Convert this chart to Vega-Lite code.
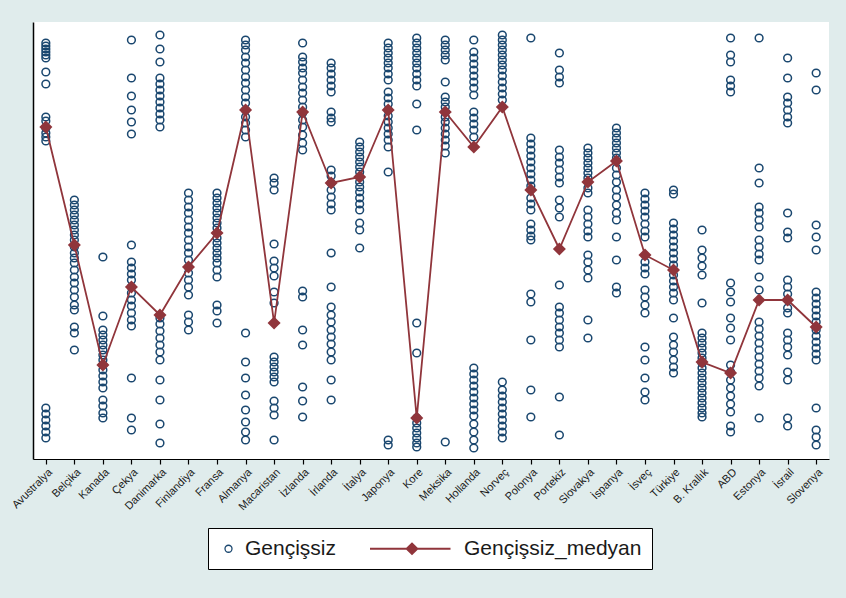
{
  "$schema": "https://vega.github.io/schema/vega-lite/v6.json",
  "autosize": {"type": "none"},
  "width": 796,
  "height": 437,
  "padding": {"left": 33, "top": 22, "right": 17, "bottom": 139},
  "background": "#e0ecec",
  "config": {
    "view": {"stroke": null, "fill": "white"},
    "font": "Liberation Sans"
  },
  "datasets": {
    "noktalar": [
      {"ulke":"Avustralya","deger":41.6},{"ulke":"Avustralya","deger":41.3},{"ulke":"Avustralya","deger":41.0},{"ulke":"Avustralya","deger":40.7},{"ulke":"Avustralya","deger":40.4},{"ulke":"Avustralya","deger":40.1},{"ulke":"Avustralya","deger":38.7},{"ulke":"Avustralya","deger":37.5},{"ulke":"Avustralya","deger":34.2},{"ulke":"Avustralya","deger":33.8},{"ulke":"Avustralya","deger":33.1},{"ulke":"Avustralya","deger":32.6},{"ulke":"Avustralya","deger":32.2},{"ulke":"Avustralya","deger":31.8},{"ulke":"Avustralya","deger":5.1},{"ulke":"Avustralya","deger":4.5},{"ulke":"Avustralya","deger":3.9},{"ulke":"Avustralya","deger":3.3},{"ulke":"Avustralya","deger":2.7},{"ulke":"Avustralya","deger":2.1},
      {"ulke":"Belçika","deger":25.9},{"ulke":"Belçika","deger":25.4},{"ulke":"Belçika","deger":24.9},{"ulke":"Belçika","deger":24.4},{"ulke":"Belçika","deger":23.9},{"ulke":"Belçika","deger":23.4},{"ulke":"Belçika","deger":22.9},{"ulke":"Belçika","deger":22.4},{"ulke":"Belçika","deger":21.9},{"ulke":"Belçika","deger":21.2},{"ulke":"Belçika","deger":20.6},{"ulke":"Belçika","deger":20.1},{"ulke":"Belçika","deger":19.6},{"ulke":"Belçika","deger":18.9},{"ulke":"Belçika","deger":18.2},{"ulke":"Belçika","deger":17.6},{"ulke":"Belçika","deger":16.9},{"ulke":"Belçika","deger":16.2},{"ulke":"Belçika","deger":15.4},{"ulke":"Belçika","deger":14.9},{"ulke":"Belçika","deger":13.2},{"ulke":"Belçika","deger":12.6},{"ulke":"Belçika","deger":10.9},
      {"ulke":"Kanada","deger":20.2},{"ulke":"Kanada","deger":14.3},{"ulke":"Kanada","deger":12.9},{"ulke":"Kanada","deger":12.4},{"ulke":"Kanada","deger":11.9},{"ulke":"Kanada","deger":11.4},{"ulke":"Kanada","deger":10.9},{"ulke":"Kanada","deger":10.4},{"ulke":"Kanada","deger":9.9},{"ulke":"Kanada","deger":9.4},{"ulke":"Kanada","deger":8.9},{"ulke":"Kanada","deger":8.3},{"ulke":"Kanada","deger":7.7},{"ulke":"Kanada","deger":7.1},{"ulke":"Kanada","deger":5.9},{"ulke":"Kanada","deger":5.3},{"ulke":"Kanada","deger":4.6},{"ulke":"Kanada","deger":4.1},
      {"ulke":"Çekya","deger":41.9},{"ulke":"Çekya","deger":38.1},{"ulke":"Çekya","deger":36.3},{"ulke":"Çekya","deger":34.9},{"ulke":"Çekya","deger":33.7},{"ulke":"Çekya","deger":32.5},{"ulke":"Çekya","deger":21.4},{"ulke":"Çekya","deger":19.7},{"ulke":"Çekya","deger":19.1},{"ulke":"Çekya","deger":18.5},{"ulke":"Çekya","deger":17.9},{"ulke":"Çekya","deger":17.2},{"ulke":"Çekya","deger":16.6},{"ulke":"Çekya","deger":15.9},{"ulke":"Çekya","deger":15.3},{"ulke":"Çekya","deger":14.6},{"ulke":"Çekya","deger":13.9},{"ulke":"Çekya","deger":13.3},{"ulke":"Çekya","deger":8.1},{"ulke":"Çekya","deger":4.1},{"ulke":"Çekya","deger":2.9},
      {"ulke":"Danimarka","deger":42.4},{"ulke":"Danimarka","deger":41.0},{"ulke":"Danimarka","deger":39.7},{"ulke":"Danimarka","deger":38.1},{"ulke":"Danimarka","deger":37.5},{"ulke":"Danimarka","deger":36.9},{"ulke":"Danimarka","deger":36.3},{"ulke":"Danimarka","deger":35.7},{"ulke":"Danimarka","deger":35.1},{"ulke":"Danimarka","deger":34.5},{"ulke":"Danimarka","deger":33.9},{"ulke":"Danimarka","deger":33.2},{"ulke":"Danimarka","deger":14.1},{"ulke":"Danimarka","deger":13.5},{"ulke":"Danimarka","deger":12.8},{"ulke":"Danimarka","deger":12.1},{"ulke":"Danimarka","deger":11.4},{"ulke":"Danimarka","deger":10.7},{"ulke":"Danimarka","deger":9.9},{"ulke":"Danimarka","deger":7.9},{"ulke":"Danimarka","deger":5.9},{"ulke":"Danimarka","deger":3.5},{"ulke":"Danimarka","deger":1.6},
      {"ulke":"Finlandiya","deger":26.6},{"ulke":"Finlandiya","deger":25.9},{"ulke":"Finlandiya","deger":25.2},{"ulke":"Finlandiya","deger":24.6},{"ulke":"Finlandiya","deger":23.9},{"ulke":"Finlandiya","deger":23.2},{"ulke":"Finlandiya","deger":22.6},{"ulke":"Finlandiya","deger":21.9},{"ulke":"Finlandiya","deger":21.2},{"ulke":"Finlandiya","deger":20.6},{"ulke":"Finlandiya","deger":19.9},{"ulke":"Finlandiya","deger":19.2},{"ulke":"Finlandiya","deger":18.6},{"ulke":"Finlandiya","deger":17.9},{"ulke":"Finlandiya","deger":17.2},{"ulke":"Finlandiya","deger":16.4},{"ulke":"Finlandiya","deger":14.4},{"ulke":"Finlandiya","deger":13.7},{"ulke":"Finlandiya","deger":12.9},
      {"ulke":"Fransa","deger":26.6},{"ulke":"Fransa","deger":26.1},{"ulke":"Fransa","deger":25.6},{"ulke":"Fransa","deger":25.1},{"ulke":"Fransa","deger":24.6},{"ulke":"Fransa","deger":24.1},{"ulke":"Fransa","deger":23.6},{"ulke":"Fransa","deger":23.1},{"ulke":"Fransa","deger":22.1},{"ulke":"Fransa","deger":21.6},{"ulke":"Fransa","deger":21.1},{"ulke":"Fransa","deger":20.6},{"ulke":"Fransa","deger":20.1},{"ulke":"Fransa","deger":19.6},{"ulke":"Fransa","deger":18.9},{"ulke":"Fransa","deger":18.2},{"ulke":"Fransa","deger":15.4},{"ulke":"Fransa","deger":14.8},{"ulke":"Fransa","deger":13.6},
      {"ulke":"Almanya","deger":41.9},{"ulke":"Almanya","deger":41.4},{"ulke":"Almanya","deger":40.9},{"ulke":"Almanya","deger":40.2},{"ulke":"Almanya","deger":39.6},{"ulke":"Almanya","deger":38.9},{"ulke":"Almanya","deger":38.2},{"ulke":"Almanya","deger":37.6},{"ulke":"Almanya","deger":36.9},{"ulke":"Almanya","deger":36.2},{"ulke":"Almanya","deger":35.6},{"ulke":"Almanya","deger":34.9},{"ulke":"Almanya","deger":34.2},{"ulke":"Almanya","deger":33.6},{"ulke":"Almanya","deger":32.9},{"ulke":"Almanya","deger":32.2},{"ulke":"Almanya","deger":12.6},{"ulke":"Almanya","deger":9.7},{"ulke":"Almanya","deger":8.1},{"ulke":"Almanya","deger":6.4},{"ulke":"Almanya","deger":4.9},{"ulke":"Almanya","deger":3.7},{"ulke":"Almanya","deger":2.7},{"ulke":"Almanya","deger":1.9},
      {"ulke":"Macaristan","deger":28.1},{"ulke":"Macaristan","deger":27.6},{"ulke":"Macaristan","deger":26.9},{"ulke":"Macaristan","deger":21.5},{"ulke":"Macaristan","deger":19.8},{"ulke":"Macaristan","deger":19.1},{"ulke":"Macaristan","deger":18.3},{"ulke":"Macaristan","deger":16.7},{"ulke":"Macaristan","deger":15.6},{"ulke":"Macaristan","deger":10.2},{"ulke":"Macaristan","deger":9.7},{"ulke":"Macaristan","deger":9.2},{"ulke":"Macaristan","deger":8.7},{"ulke":"Macaristan","deger":8.2},{"ulke":"Macaristan","deger":7.7},{"ulke":"Macaristan","deger":5.8},{"ulke":"Macaristan","deger":5.1},{"ulke":"Macaristan","deger":4.4},{"ulke":"Macaristan","deger":1.9},
      {"ulke":"İzlanda","deger":41.6},{"ulke":"İzlanda","deger":40.2},{"ulke":"İzlanda","deger":39.7},{"ulke":"İzlanda","deger":39.1},{"ulke":"İzlanda","deger":38.6},{"ulke":"İzlanda","deger":37.9},{"ulke":"İzlanda","deger":37.2},{"ulke":"İzlanda","deger":36.6},{"ulke":"İzlanda","deger":35.9},{"ulke":"İzlanda","deger":35.2},{"ulke":"İzlanda","deger":34.6},{"ulke":"İzlanda","deger":33.9},{"ulke":"İzlanda","deger":33.2},{"ulke":"İzlanda","deger":32.4},{"ulke":"İzlanda","deger":31.6},{"ulke":"İzlanda","deger":30.9},{"ulke":"İzlanda","deger":16.8},{"ulke":"İzlanda","deger":16.2},{"ulke":"İzlanda","deger":12.9},{"ulke":"İzlanda","deger":11.4},{"ulke":"İzlanda","deger":7.2},{"ulke":"İzlanda","deger":5.8},{"ulke":"İzlanda","deger":4.2},
      {"ulke":"İrlanda","deger":39.6},{"ulke":"İrlanda","deger":39.1},{"ulke":"İrlanda","deger":38.5},{"ulke":"İrlanda","deger":37.9},{"ulke":"İrlanda","deger":37.3},{"ulke":"İrlanda","deger":36.7},{"ulke":"İrlanda","deger":34.7},{"ulke":"İrlanda","deger":34.1},{"ulke":"İrlanda","deger":33.7},{"ulke":"İrlanda","deger":28.9},{"ulke":"İrlanda","deger":28.3},{"ulke":"İrlanda","deger":27.6},{"ulke":"İrlanda","deger":26.9},{"ulke":"İrlanda","deger":26.2},{"ulke":"İrlanda","deger":25.5},{"ulke":"İrlanda","deger":24.9},{"ulke":"İrlanda","deger":20.6},{"ulke":"İrlanda","deger":17.2},{"ulke":"İrlanda","deger":15.2},{"ulke":"İrlanda","deger":14.4},{"ulke":"İrlanda","deger":13.7},{"ulke":"İrlanda","deger":12.9},{"ulke":"İrlanda","deger":12.2},{"ulke":"İrlanda","deger":11.5},{"ulke":"İrlanda","deger":10.7},{"ulke":"İrlanda","deger":9.9},{"ulke":"İrlanda","deger":7.9},{"ulke":"İrlanda","deger":5.9},
      {"ulke":"İtalya","deger":31.7},{"ulke":"İtalya","deger":31.2},{"ulke":"İtalya","deger":30.7},{"ulke":"İtalya","deger":30.2},{"ulke":"İtalya","deger":29.7},{"ulke":"İtalya","deger":29.2},{"ulke":"İtalya","deger":28.7},{"ulke":"İtalya","deger":28.2},{"ulke":"İtalya","deger":27.7},{"ulke":"İtalya","deger":27.2},{"ulke":"İtalya","deger":26.7},{"ulke":"İtalya","deger":26.1},{"ulke":"İtalya","deger":25.5},{"ulke":"İtalya","deger":24.9},{"ulke":"İtalya","deger":23.6},{"ulke":"İtalya","deger":22.9},{"ulke":"İtalya","deger":21.1},
      {"ulke":"Japonya","deger":41.6},{"ulke":"Japonya","deger":41.1},{"ulke":"Japonya","deger":40.6},{"ulke":"Japonya","deger":40.1},{"ulke":"Japonya","deger":39.6},{"ulke":"Japonya","deger":39.1},{"ulke":"Japonya","deger":38.5},{"ulke":"Japonya","deger":37.9},{"ulke":"Japonya","deger":36.7},{"ulke":"Japonya","deger":36.1},{"ulke":"Japonya","deger":35.5},{"ulke":"Japonya","deger":34.9},{"ulke":"Japonya","deger":34.3},{"ulke":"Japonya","deger":33.7},{"ulke":"Japonya","deger":33.1},{"ulke":"Japonya","deger":32.5},{"ulke":"Japonya","deger":31.9},{"ulke":"Japonya","deger":31.2},{"ulke":"Japonya","deger":28.7},{"ulke":"Japonya","deger":1.9},{"ulke":"Japonya","deger":1.4},
      {"ulke":"Kore","deger":42.1},{"ulke":"Kore","deger":41.6},{"ulke":"Kore","deger":41.1},{"ulke":"Kore","deger":40.6},{"ulke":"Kore","deger":40.1},{"ulke":"Kore","deger":39.6},{"ulke":"Kore","deger":39.1},{"ulke":"Kore","deger":38.5},{"ulke":"Kore","deger":37.9},{"ulke":"Kore","deger":37.3},{"ulke":"Kore","deger":35.5},{"ulke":"Kore","deger":32.9},{"ulke":"Kore","deger":13.6},{"ulke":"Kore","deger":10.6},{"ulke":"Kore","deger":4.1},{"ulke":"Kore","deger":3.6},{"ulke":"Kore","deger":3.1},{"ulke":"Kore","deger":2.6},{"ulke":"Kore","deger":2.1},{"ulke":"Kore","deger":1.6},{"ulke":"Kore","deger":1.2},
      {"ulke":"Meksika","deger":41.9},{"ulke":"Meksika","deger":41.4},{"ulke":"Meksika","deger":40.9},{"ulke":"Meksika","deger":40.4},{"ulke":"Meksika","deger":39.9},{"ulke":"Meksika","deger":37.7},{"ulke":"Meksika","deger":36.2},{"ulke":"Meksika","deger":35.7},{"ulke":"Meksika","deger":35.2},{"ulke":"Meksika","deger":34.7},{"ulke":"Meksika","deger":34.2},{"ulke":"Meksika","deger":33.7},{"ulke":"Meksika","deger":33.1},{"ulke":"Meksika","deger":32.5},{"ulke":"Meksika","deger":31.9},{"ulke":"Meksika","deger":31.3},{"ulke":"Meksika","deger":30.6},{"ulke":"Meksika","deger":1.7},
      {"ulke":"Hollanda","deger":41.9},{"ulke":"Hollanda","deger":40.7},{"ulke":"Hollanda","deger":40.1},{"ulke":"Hollanda","deger":39.5},{"ulke":"Hollanda","deger":38.9},{"ulke":"Hollanda","deger":38.3},{"ulke":"Hollanda","deger":37.7},{"ulke":"Hollanda","deger":37.1},{"ulke":"Hollanda","deger":36.4},{"ulke":"Hollanda","deger":34.7},{"ulke":"Hollanda","deger":34.1},{"ulke":"Hollanda","deger":33.5},{"ulke":"Hollanda","deger":32.9},{"ulke":"Hollanda","deger":32.2},{"ulke":"Hollanda","deger":9.1},{"ulke":"Hollanda","deger":8.5},{"ulke":"Hollanda","deger":7.9},{"ulke":"Hollanda","deger":7.3},{"ulke":"Hollanda","deger":6.7},{"ulke":"Hollanda","deger":6.1},{"ulke":"Hollanda","deger":5.5},{"ulke":"Hollanda","deger":4.9},{"ulke":"Hollanda","deger":4.3},{"ulke":"Hollanda","deger":3.5},{"ulke":"Hollanda","deger":2.7},{"ulke":"Hollanda","deger":1.9},{"ulke":"Hollanda","deger":1.1},
      {"ulke":"Norveç","deger":42.4},{"ulke":"Norveç","deger":41.9},{"ulke":"Norveç","deger":41.4},{"ulke":"Norveç","deger":40.9},{"ulke":"Norveç","deger":40.4},{"ulke":"Norveç","deger":39.9},{"ulke":"Norveç","deger":39.4},{"ulke":"Norveç","deger":38.9},{"ulke":"Norveç","deger":38.3},{"ulke":"Norveç","deger":37.7},{"ulke":"Norveç","deger":37.1},{"ulke":"Norveç","deger":36.5},{"ulke":"Norveç","deger":35.9},{"ulke":"Norveç","deger":7.7},{"ulke":"Norveç","deger":6.9},{"ulke":"Norveç","deger":6.3},{"ulke":"Norveç","deger":5.7},{"ulke":"Norveç","deger":5.1},{"ulke":"Norveç","deger":4.5},{"ulke":"Norveç","deger":3.9},{"ulke":"Norveç","deger":3.3},{"ulke":"Norveç","deger":2.7},{"ulke":"Norveç","deger":2.1},
      {"ulke":"Polonya","deger":42.1},{"ulke":"Polonya","deger":32.1},{"ulke":"Polonya","deger":31.5},{"ulke":"Polonya","deger":30.9},{"ulke":"Polonya","deger":30.3},{"ulke":"Polonya","deger":29.7},{"ulke":"Polonya","deger":29.1},{"ulke":"Polonya","deger":28.5},{"ulke":"Polonya","deger":27.9},{"ulke":"Polonya","deger":27.3},{"ulke":"Polonya","deger":26.1},{"ulke":"Polonya","deger":25.5},{"ulke":"Polonya","deger":24.9},{"ulke":"Polonya","deger":23.5},{"ulke":"Polonya","deger":22.9},{"ulke":"Polonya","deger":22.3},{"ulke":"Polonya","deger":21.9},{"ulke":"Polonya","deger":16.5},{"ulke":"Polonya","deger":15.7},{"ulke":"Polonya","deger":11.9},{"ulke":"Polonya","deger":6.9},{"ulke":"Polonya","deger":4.2},
      {"ulke":"Portekiz","deger":40.6},{"ulke":"Portekiz","deger":38.9},{"ulke":"Portekiz","deger":38.2},{"ulke":"Portekiz","deger":37.6},{"ulke":"Portekiz","deger":30.9},{"ulke":"Portekiz","deger":30.2},{"ulke":"Portekiz","deger":29.6},{"ulke":"Portekiz","deger":28.9},{"ulke":"Portekiz","deger":28.2},{"ulke":"Portekiz","deger":27.6},{"ulke":"Portekiz","deger":25.9},{"ulke":"Portekiz","deger":25.1},{"ulke":"Portekiz","deger":24.2},{"ulke":"Portekiz","deger":17.4},{"ulke":"Portekiz","deger":15.2},{"ulke":"Portekiz","deger":14.6},{"ulke":"Portekiz","deger":13.9},{"ulke":"Portekiz","deger":13.2},{"ulke":"Portekiz","deger":12.6},{"ulke":"Portekiz","deger":11.9},{"ulke":"Portekiz","deger":11.2},{"ulke":"Portekiz","deger":6.2},{"ulke":"Portekiz","deger":2.4},
      {"ulke":"Slovakya","deger":31.1},{"ulke":"Slovakya","deger":30.6},{"ulke":"Slovakya","deger":30.1},{"ulke":"Slovakya","deger":29.6},{"ulke":"Slovakya","deger":29.1},{"ulke":"Slovakya","deger":28.6},{"ulke":"Slovakya","deger":28.1},{"ulke":"Slovakya","deger":27.1},{"ulke":"Slovakya","deger":26.6},{"ulke":"Slovakya","deger":24.9},{"ulke":"Slovakya","deger":24.2},{"ulke":"Slovakya","deger":23.5},{"ulke":"Slovakya","deger":22.8},{"ulke":"Slovakya","deger":22.2},{"ulke":"Slovakya","deger":20.4},{"ulke":"Slovakya","deger":19.7},{"ulke":"Slovakya","deger":18.9},{"ulke":"Slovakya","deger":18.1},{"ulke":"Slovakya","deger":13.9},{"ulke":"Slovakya","deger":12.1},
      {"ulke":"İspanya","deger":33.1},{"ulke":"İspanya","deger":32.6},{"ulke":"İspanya","deger":32.1},{"ulke":"İspanya","deger":31.6},{"ulke":"İspanya","deger":31.1},{"ulke":"İspanya","deger":30.6},{"ulke":"İspanya","deger":30.1},{"ulke":"İspanya","deger":29.1},{"ulke":"İspanya","deger":28.4},{"ulke":"İspanya","deger":27.7},{"ulke":"İspanya","deger":26.9},{"ulke":"İspanya","deger":26.2},{"ulke":"İspanya","deger":25.4},{"ulke":"İspanya","deger":24.6},{"ulke":"İspanya","deger":23.9},{"ulke":"İspanya","deger":22.2},{"ulke":"İspanya","deger":19.9},{"ulke":"İspanya","deger":17.2},{"ulke":"İspanya","deger":16.6},
      {"ulke":"İsveç","deger":26.6},{"ulke":"İsveç","deger":26.0},{"ulke":"İsveç","deger":25.4},{"ulke":"İsveç","deger":24.8},{"ulke":"İsveç","deger":24.2},{"ulke":"İsveç","deger":23.5},{"ulke":"İsveç","deger":22.8},{"ulke":"İsveç","deger":22.2},{"ulke":"İsveç","deger":19.7},{"ulke":"İsveç","deger":19.1},{"ulke":"İsveç","deger":18.5},{"ulke":"İsveç","deger":16.9},{"ulke":"İsveç","deger":16.2},{"ulke":"İsveç","deger":15.4},{"ulke":"İsveç","deger":14.6},{"ulke":"İsveç","deger":11.2},{"ulke":"İsveç","deger":9.9},{"ulke":"İsveç","deger":8.1},{"ulke":"İsveç","deger":6.7},{"ulke":"İsveç","deger":5.9},
      {"ulke":"Türkiye","deger":26.9},{"ulke":"Türkiye","deger":26.5},{"ulke":"Türkiye","deger":23.6},{"ulke":"Türkiye","deger":23.0},{"ulke":"Türkiye","deger":22.4},{"ulke":"Türkiye","deger":21.8},{"ulke":"Türkiye","deger":21.2},{"ulke":"Türkiye","deger":20.6},{"ulke":"Türkiye","deger":20.0},{"ulke":"Türkiye","deger":19.4},{"ulke":"Türkiye","deger":18.4},{"ulke":"Türkiye","deger":17.8},{"ulke":"Türkiye","deger":17.2},{"ulke":"Türkiye","deger":16.6},{"ulke":"Türkiye","deger":15.9},{"ulke":"Türkiye","deger":14.1},{"ulke":"Türkiye","deger":12.2},{"ulke":"Türkiye","deger":11.4},{"ulke":"Türkiye","deger":10.7},{"ulke":"Türkiye","deger":9.9},{"ulke":"Türkiye","deger":9.2},{"ulke":"Türkiye","deger":8.6},
      {"ulke":"B. Krallık","deger":22.9},{"ulke":"B. Krallık","deger":20.9},{"ulke":"B. Krallık","deger":20.1},{"ulke":"B. Krallık","deger":19.3},{"ulke":"B. Krallık","deger":18.4},{"ulke":"B. Krallık","deger":15.6},{"ulke":"B. Krallık","deger":12.6},{"ulke":"B. Krallık","deger":12.1},{"ulke":"B. Krallık","deger":11.6},{"ulke":"B. Krallık","deger":11.1},{"ulke":"B. Krallık","deger":10.6},{"ulke":"B. Krallık","deger":10.1},{"ulke":"B. Krallık","deger":9.6},{"ulke":"B. Krallık","deger":9.1},{"ulke":"B. Krallık","deger":8.6},{"ulke":"B. Krallık","deger":8.1},{"ulke":"B. Krallık","deger":7.6},{"ulke":"B. Krallık","deger":7.1},{"ulke":"B. Krallık","deger":6.6},{"ulke":"B. Krallık","deger":6.1},{"ulke":"B. Krallık","deger":5.6},{"ulke":"B. Krallık","deger":5.1},{"ulke":"B. Krallık","deger":4.6},{"ulke":"B. Krallık","deger":4.2},
      {"ulke":"ABD","deger":42.1},{"ulke":"ABD","deger":40.4},{"ulke":"ABD","deger":39.7},{"ulke":"ABD","deger":37.9},{"ulke":"ABD","deger":37.3},{"ulke":"ABD","deger":36.7},{"ulke":"ABD","deger":17.6},{"ulke":"ABD","deger":16.7},{"ulke":"ABD","deger":15.7},{"ulke":"ABD","deger":14.1},{"ulke":"ABD","deger":13.1},{"ulke":"ABD","deger":11.9},{"ulke":"ABD","deger":9.4},{"ulke":"ABD","deger":8.7},{"ulke":"ABD","deger":7.9},{"ulke":"ABD","deger":7.1},{"ulke":"ABD","deger":6.3},{"ulke":"ABD","deger":5.5},{"ulke":"ABD","deger":4.7},{"ulke":"ABD","deger":3.3},{"ulke":"ABD","deger":2.7},
      {"ulke":"Estonya","deger":42.1},{"ulke":"Estonya","deger":29.1},{"ulke":"Estonya","deger":27.6},{"ulke":"Estonya","deger":25.2},{"ulke":"Estonya","deger":24.6},{"ulke":"Estonya","deger":23.9},{"ulke":"Estonya","deger":23.2},{"ulke":"Estonya","deger":21.9},{"ulke":"Estonya","deger":21.2},{"ulke":"Estonya","deger":20.5},{"ulke":"Estonya","deger":19.9},{"ulke":"Estonya","deger":18.2},{"ulke":"Estonya","deger":16.9},{"ulke":"Estonya","deger":13.7},{"ulke":"Estonya","deger":13.0},{"ulke":"Estonya","deger":12.3},{"ulke":"Estonya","deger":11.6},{"ulke":"Estonya","deger":10.9},{"ulke":"Estonya","deger":10.2},{"ulke":"Estonya","deger":9.5},{"ulke":"Estonya","deger":8.8},{"ulke":"Estonya","deger":8.1},{"ulke":"Estonya","deger":7.3},{"ulke":"Estonya","deger":4.1},
      {"ulke":"İsrail","deger":40.1},{"ulke":"İsrail","deger":38.1},{"ulke":"İsrail","deger":36.2},{"ulke":"İsrail","deger":35.6},{"ulke":"İsrail","deger":34.9},{"ulke":"İsrail","deger":34.2},{"ulke":"İsrail","deger":33.6},{"ulke":"İsrail","deger":24.6},{"ulke":"İsrail","deger":22.7},{"ulke":"İsrail","deger":22.1},{"ulke":"İsrail","deger":17.9},{"ulke":"İsrail","deger":17.2},{"ulke":"İsrail","deger":16.5},{"ulke":"İsrail","deger":15.1},{"ulke":"İsrail","deger":14.6},{"ulke":"İsrail","deger":12.6},{"ulke":"İsrail","deger":11.9},{"ulke":"İsrail","deger":11.2},{"ulke":"İsrail","deger":10.4},{"ulke":"İsrail","deger":8.7},{"ulke":"İsrail","deger":7.9},{"ulke":"İsrail","deger":4.1},{"ulke":"İsrail","deger":3.3},
      {"ulke":"Slovenya","deger":38.6},{"ulke":"Slovenya","deger":36.9},{"ulke":"Slovenya","deger":23.4},{"ulke":"Slovenya","deger":22.2},{"ulke":"Slovenya","deger":20.9},{"ulke":"Slovenya","deger":16.7},{"ulke":"Slovenya","deger":16.1},{"ulke":"Slovenya","deger":15.5},{"ulke":"Slovenya","deger":14.9},{"ulke":"Slovenya","deger":14.3},{"ulke":"Slovenya","deger":13.7},{"ulke":"Slovenya","deger":12.9},{"ulke":"Slovenya","deger":12.3},{"ulke":"Slovenya","deger":11.7},{"ulke":"Slovenya","deger":11.1},{"ulke":"Slovenya","deger":10.5},{"ulke":"Slovenya","deger":9.9},{"ulke":"Slovenya","deger":5.1},{"ulke":"Slovenya","deger":2.9},{"ulke":"Slovenya","deger":2.2},{"ulke":"Slovenya","deger":1.4}
    ],
    "medyan": [
      {"ulke":"Avustralya","medyan":33.2},{"ulke":"Belçika","medyan":21.4},{"ulke":"Kanada","medyan":9.4},{"ulke":"Çekya","medyan":17.2},{"ulke":"Danimarka","medyan":14.4},{"ulke":"Finlandiya","medyan":19.2},{"ulke":"Fransa","medyan":22.6},{"ulke":"Almanya","medyan":34.9},{"ulke":"Macaristan","medyan":13.6},{"ulke":"İzlanda","medyan":34.7},{"ulke":"İrlanda","medyan":27.6},{"ulke":"İtalya","medyan":28.2},{"ulke":"Japonya","medyan":34.9},{"ulke":"Kore","medyan":4.1},{"ulke":"Meksika","medyan":34.7},{"ulke":"Hollanda","medyan":31.2},{"ulke":"Norveç","medyan":35.2},{"ulke":"Polonya","medyan":26.9},{"ulke":"Portekiz","medyan":21.0},{"ulke":"Slovakya","medyan":27.7},{"ulke":"İspanya","medyan":29.8},{"ulke":"İsveç","medyan":20.4},{"ulke":"Türkiye","medyan":18.9},{"ulke":"B. Krallık","medyan":9.7},{"ulke":"ABD","medyan":8.6},{"ulke":"Estonya","medyan":15.9},{"ulke":"İsrail","medyan":15.9},{"ulke":"Slovenya","medyan":13.2}
    ]
  },
  "encoding": {
    "x": {
      "field": "ulke",
      "type": "nominal",
      "sort": null,
      "scale": {"type": "point", "padding": 0.45, "domain": ["Avustralya","Belçika","Kanada","Çekya","Danimarka","Finlandiya","Fransa","Almanya","Macaristan","İzlanda","İrlanda","İtalya","Japonya","Kore","Meksika","Hollanda","Norveç","Polonya","Portekiz","Slovakya","İspanya","İsveç","Türkiye","B. Krallık","ABD","Estonya","İsrail","Slovenya"]},
      "axis": {"title": null, "labelAngle": -45, "labelFontSize": 11, "labelFont": "Liberation Sans", "labelColor": "#1a1a1a", "tickColor": "#000", "tickSize": 5, "tickWidth": 1.2, "domainColor": "#000", "domainWidth": 1.2, "grid": false, "labelPadding": 2}
    }
  },
  "layer": [
    {
      "data": {"name": "noktalar"},
      "mark": {"type": "point", "shape": "circle", "filled": false, "size": 60, "strokeWidth": 1.5, "opacity": 1},
      "encoding": {
        "y": {"field": "deger", "type": "quantitative", "scale": {"domain": [0, 43.7], "nice": false, "zero": true}, "axis": {"title": null, "labels": false, "ticks": false, "grid": false, "domainColor": "#000", "domainWidth": 1.5}},
        "color": {
          "datum": "Gençişsiz",
          "scale": {"domain": ["Gençişsiz", "Gençişsiz_medyan"], "range": ["#1a476f", "#90353b"]},
          "legend": {
            "title": null, "orient": "none", "direction": "horizontal", "legendX": 175, "legendY": 506,
            "fillColor": "white", "strokeColor": "#000", "padding": 10,
            "labelFontSize": 21, "labelFont": "Liberation Sans", "labelColor": "#1a1a1a", "labelLimit": 400, "labelOffset": 6,
            "symbolSize": 49, "columnPadding": 26,
            "encode": {
              "symbols": {"update": {
                "shape": {"signal": "datum.index === 1 ? 'M-1,0L9.5,0L11,-1.43L12.5,0L22,0M9.5,0L11,1.43L12.5,0' : 'circle'"},
                "fill": {"signal": "datum.index === 1 ? '#90353b' : '#1a476f'"},
                "stroke": {"signal": "datum.index === 1 ? '#90353b' : '#1a476f'"},
                "fillOpacity": {"signal": "datum.index === 1 ? 1 : 0"},
                "strokeWidth": {"signal": "datum.index === 1 ? 2 : 1.3"},
                "opacity": {"value": 1}
              }},
              "labels": {"update": {"dx": {"signal": "datum.index === 1 ? 74 : 0"}}}
            }
          }
        }
      }
    },
    {
      "data": {"name": "medyan"},
      "mark": {"type": "line", "strokeWidth": 1.8},
      "encoding": {
        "y": {"field": "medyan", "type": "quantitative"},
        "color": {
          "datum": "Gençişsiz_medyan",
          "legend": {
            "title": null, "orient": "none", "direction": "horizontal", "legendX": 175, "legendY": 506,
            "fillColor": "white", "strokeColor": "#000", "padding": 10,
            "labelFontSize": 21, "labelFont": "Liberation Sans", "labelColor": "#1a1a1a", "labelLimit": 400, "labelOffset": 6,
            "symbolSize": 49, "columnPadding": 26,
            "encode": {
              "symbols": {"update": {
                "shape": {"signal": "datum.index === 1 ? 'M-1,0L9.5,0L11,-1.43L12.5,0L22,0M9.5,0L11,1.43L12.5,0' : 'circle'"},
                "fill": {"signal": "datum.index === 1 ? '#90353b' : '#1a476f'"},
                "stroke": {"signal": "datum.index === 1 ? '#90353b' : '#1a476f'"},
                "fillOpacity": {"signal": "datum.index === 1 ? 1 : 0"},
                "strokeWidth": {"signal": "datum.index === 1 ? 2 : 1.3"},
                "opacity": {"value": 1}
              }},
              "labels": {"update": {"dx": {"signal": "datum.index === 1 ? 74 : 0"}}}
            }
          }
        }
      }
    },
    {
      "data": {"name": "medyan"},
      "mark": {"type": "point", "shape": "diamond", "filled": true, "size": 170, "opacity": 1},
      "encoding": {
        "y": {"field": "medyan", "type": "quantitative"},
        "color": {
          "datum": "Gençişsiz_medyan",
          "legend": {
            "title": null, "orient": "none", "direction": "horizontal", "legendX": 175, "legendY": 506,
            "fillColor": "white", "strokeColor": "#000", "padding": 10,
            "labelFontSize": 21, "labelFont": "Liberation Sans", "labelColor": "#1a1a1a", "labelLimit": 400, "labelOffset": 6,
            "symbolSize": 49, "columnPadding": 26,
            "encode": {
              "symbols": {"update": {
                "shape": {"signal": "datum.index === 1 ? 'M-1,0L9.5,0L11,-1.43L12.5,0L22,0M9.5,0L11,1.43L12.5,0' : 'circle'"},
                "fill": {"signal": "datum.index === 1 ? '#90353b' : '#1a476f'"},
                "stroke": {"signal": "datum.index === 1 ? '#90353b' : '#1a476f'"},
                "fillOpacity": {"signal": "datum.index === 1 ? 1 : 0"},
                "strokeWidth": {"signal": "datum.index === 1 ? 2 : 1.3"},
                "opacity": {"value": 1}
              }},
              "labels": {"update": {"dx": {"signal": "datum.index === 1 ? 74 : 0"}}}
            }
          }
        }
      }
    }
  ]
}
